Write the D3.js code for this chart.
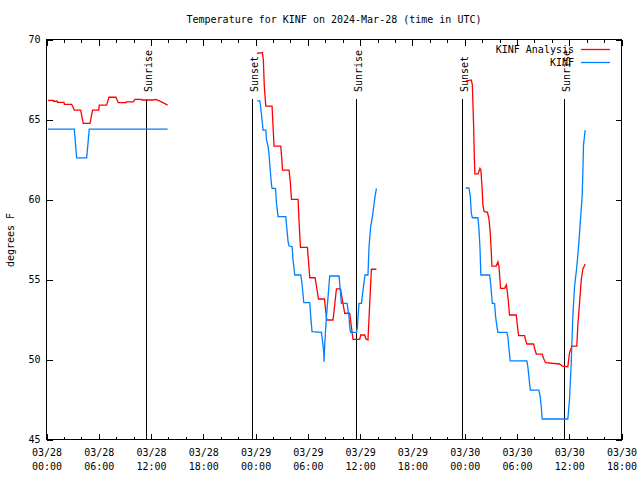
<!DOCTYPE html>
<html>
<head>
<meta charset="utf-8">
<script src="https://cdn.jsdelivr.net/npm/d3@7"></script>
<style>
  html, body { margin: 0; padding: 0; background: #fff; }
  svg { display: block; }
  text { font-family: "DejaVu Sans Mono", "Liberation Mono", monospace; font-size: 10px; fill: #000; }
</style>
</head>
<body>
<svg id="chart" width="640" height="480"></svg>
<script>
// ---- Data (hours since 2024-03-28 00:00 UTC; null = gap) ----
const titleText = "Temperature for KINF on 2024-Mar-28 (time in UTC)";
const yLabelText = "degrees F";
const seriesNames = ["KINF Analysis", "KINF"];
const seriesColors = ["#ff0000", "#0080ff"];

const analysisHours = [
  0.17, 0.78, 0.8, 1.24, 1.27, 2.01, 2.05, 2.89, 3.19, 3.92, 4.22, 4.99, 5.29, 6.0, 6.06, 6.9, 7.17, 7.97, 8.24, 9.12, 9.15, 9.96, 10.15, 10.91, 10.95, 12.25, 12.56, 13.2, 13.9,
  null,
  24.17, 24.79, 24.89, 25.0, 25.17, 25.89, 26.0, 26.12, 26.89, 27.0, 27.09, 27.84, 28.0, 28.12, 28.88, 29.0, 29.15, 29.95, 30.22, 30.83, 31.22, 31.9, 32.17, 32.89, 33.28, 33.74, 34.23, 34.8, 35.18, 35.95, 36.07, 36.53, 36.64, 36.9, 37.29, 37.87,
  null,
  48.11, 48.76, 48.88, 49.03, 49.11, 49.17, 49.54, 49.75, 49.86, 50.0, 50.09, 50.23, 50.6, 50.78, 50.94, 51.06, 51.12, 51.63, 51.81, 51.93, 52.01, 52.12, 52.58, 52.78, 52.87, 53.0, 53.15, 53.92, 54.04, 54.19, 54.87, 54.99, 55.14, 55.91, 56.02, 56.22, 56.9, 57.05, 57.28, 58.89, 59.2, 59.84, 60.03, 60.3, 60.87, 60.99, 61.18, 61.38, 61.56, 61.83
];
const analysisTemps = [
  66.2, 66.2, 66.14, 66.14, 66.07, 66.07, 65.95, 65.95, 65.59, 65.59, 64.76, 64.76, 65.59, 65.59, 65.9, 65.9, 66.39, 66.39, 66.05, 66.05, 66.1, 66.1, 66.26, 66.26, 66.22, 66.22, 66.26, 66.1, 65.9,
  null,
  69.14, 69.18, 68.7, 67.1, 65.84, 65.84, 64.6, 63.34, 63.34, 62.6, 61.84, 61.84, 61.0, 60.01, 60.01, 58.5, 57.01, 57.01, 55.11, 55.11, 53.78, 53.78, 52.47, 52.47, 54.41, 54.41, 52.89, 52.89, 51.26, 51.26, 51.53, 51.53, 51.3, 51.22, 55.64, 55.64,
  null,
  67.4, 67.47, 67.16, 64.55, 62.58, 61.6, 61.6, 61.95, 61.84, 60.72, 59.66, 59.24, 59.22, 58.83, 57.89, 56.64, 55.84, 55.84, 56.11, 55.84, 55.28, 54.45, 54.45, 54.66, 54.34, 53.72, 52.78, 52.78, 52.16, 51.49, 51.49, 51.22, 50.97, 50.97, 50.7, 50.34, 50.34, 50.08, 49.8, 49.72, 49.59, 49.55, 50.39, 50.84, 50.84, 52.16, 53.51, 54.97, 55.64, 55.97
];

const obsHours = [
  0.17, 3.19, 3.46, 4.61, 4.91, 13.9,
  null,
  24.17, 24.48, 24.56, 24.68, 24.86, 25.17, 25.25, 25.44, 25.55, 25.63, 25.71, 25.83, 25.89, 26.28, 26.4, 26.58, 27.46, 27.73, 27.84, 28.19, 28.3, 28.5, 29.19, 29.27, 29.38, 29.53, 30.22, 30.33, 30.48, 31.56, 31.82, 31.86, 31.94, 32.13, 32.32, 32.51, 33.58, 33.85, 34.5, 34.72, 34.8, 34.89, 35.57, 35.67, 35.87, 36.15, 36.33, 36.56, 36.9, 37.02, 37.21, 37.41, 37.56, 37.71, 37.87,
  null,
  48.11, 48.49, 48.65, 48.76, 48.88, 49.52, 49.63, 49.75, 49.86, 50.86, 50.98, 51.09, 51.17, 51.43, 51.55, 51.7, 51.81, 52.84, 52.96, 53.07, 53.23, 55.14, 55.25, 55.37, 55.53, 56.51, 56.67, 56.79, 56.9, 59.84, 60.03, 60.23, 60.41, 60.61, 60.87, 61.1, 61.26, 61.49, 61.56, 61.64, 61.83
];
const obsTemps = [
  64.4, 64.4, 62.6, 62.6, 64.4, 64.4,
  null,
  66.16, 66.16, 65.9, 65.28, 64.34, 64.34, 63.72, 63.3, 62.78, 62.16, 61.66, 60.9, 60.7, 60.7, 59.76, 58.93, 58.93, 57.36, 57.09, 57.05, 56.22, 55.28, 55.28, 54.97, 54.45, 53.55, 53.55, 52.68, 51.74, 51.7, 50.49, 49.86, 51.01, 52.68, 53.93, 55.22, 55.22, 53.51, 53.51, 52.68, 52.05, 51.7, 51.7, 51.95, 53.51, 53.51, 54.34, 55.28, 55.28, 57.05, 58.3, 58.93, 59.55, 60.18, 60.7,
  null,
  60.72, 60.72, 60.18, 59.14, 58.86, 58.86, 58.2, 57.05, 55.28, 55.28, 54.76, 54.03, 53.51, 53.51, 52.68, 52.05, 51.7, 51.7, 51.43, 50.7, 49.91, 49.91, 49.55, 48.93, 48.09, 48.09, 47.68, 47.05, 46.28, 46.28, 47.47, 49.76, 52.68, 54.55, 55.8, 57.26, 58.51, 60.28, 61.64, 63.41, 64.34
];

const eventNames = ["Sunrise", "Sunset", "Sunrise", "Sunset", "Sunrise"];
const eventHours = [11.46, 23.64, 35.49, 47.71, 59.43];

const yTicks = [45, 50, 55, 60, 65, 70];
const xMajorStepHours = 6;
const xMinorStepHours = 2;

// ---- Layout ----
const L = 46.5, R = 621.5, T = 39.5, B = 439.5;
const start = new Date(Date.UTC(2024, 2, 28, 0, 0));
const end = new Date(Date.UTC(2024, 2, 30, 18, 0));
const toDate = h => new Date(start.getTime() + h * 3600e3);

const x = d3.scaleUtc().domain([start, end]).range([L, R]);
const y = d3.scaleLinear().domain([45, 70]).range([B, T]);

const svg = d3.select("#chart");
svg.append("rect").attr("width", 640).attr("height", 480).attr("fill", "#fff");

const majorTicks = d3.utcHour.every(xMajorStepHours).range(start, new Date(end.getTime() + 1));
const minorTicks = d3.utcHour.every(xMinorStepHours).range(start, end)
  .filter(d => d.getUTCHours() % xMajorStepHours !== 0);

const fmtDate = d3.utcFormat("%m/%d");
const fmtTime = d3.utcFormat("%H:%M");

// Bottom axis (major)
const gxB = svg.append("g").attr("transform", `translate(0,${B})`)
  .call(d3.axisBottom(x).tickValues(majorTicks).tickSize(-6).tickSizeOuter(0).tickPadding(9).tickFormat(""));
gxB.select(".domain").remove();
gxB.selectAll(".tick").each(function(d) {
  const t = d3.select(this).select("text");
  t.text(null);
  t.append("tspan").attr("x", 0).attr("dy", "0.71em").text(fmtDate(d));
  t.append("tspan").attr("x", 0).attr("dy", "1.45em").text(fmtTime(d));
});
// Bottom minor
const gxBm = svg.append("g").attr("transform", `translate(0,${B})`)
  .call(d3.axisBottom(x).tickValues(minorTicks).tickSize(-3).tickSizeOuter(0).tickFormat(""));
gxBm.select(".domain").remove();
// Top axis
const gxT = svg.append("g").attr("transform", `translate(0,${T})`)
  .call(d3.axisTop(x).tickValues(majorTicks).tickSize(-6).tickSizeOuter(0).tickFormat(""));
gxT.select(".domain").remove();
const gxTm = svg.append("g").attr("transform", `translate(0,${T})`)
  .call(d3.axisTop(x).tickValues(minorTicks).tickSize(-3).tickSizeOuter(0).tickFormat(""));
gxTm.select(".domain").remove();
// Left axis
const gyL = svg.append("g").attr("transform", `translate(${L},0)`)
  .call(d3.axisLeft(y).tickValues(yTicks).tickSize(-6).tickSizeOuter(0).tickPadding(6).tickFormat(d3.format("d")));
gyL.select(".domain").remove();
// Right axis
const gyR = svg.append("g").attr("transform", `translate(${R},0)`)
  .call(d3.axisRight(y).tickValues(yTicks).tickSize(-6).tickSizeOuter(0).tickFormat(""));
gyR.select(".domain").remove();

svg.selectAll(".tick line").attr("stroke", "#000").attr("shape-rendering", "crispEdges");
svg.selectAll(".tick text").attr("font-family", "DejaVu Sans Mono").attr("font-size", 10).attr("fill", "#000");

// Border
svg.append("rect").attr("x", L).attr("y", T).attr("width", R - L).attr("height", B - T)
  .attr("fill", "none").attr("stroke", "#000").attr("shape-rendering", "crispEdges");

// Title & y label
svg.append("text").attr("x", (L + R) / 2).attr("y", 23).attr("text-anchor", "middle").text(titleText);
svg.append("text").attr("transform", "translate(14,240) rotate(-90)").attr("text-anchor", "middle").text(yLabelText);

// Sunrise / sunset
eventHours.forEach((h, i) => {
  const ex = Math.round(x(toDate(h))) + 0.5;
  svg.append("line").attr("x1", ex).attr("x2", ex).attr("y1", 98.5).attr("y2", B)
    .attr("stroke", "#000").attr("shape-rendering", "crispEdges");
  svg.append("text").attr("transform", `translate(${ex + 5},92) rotate(-90)`)
    .attr("text-anchor", "start").text(eventNames[i]);
});

// Data lines
const line = d3.line()
  .defined(d => d.v !== null)
  .x(d => x(toDate(d.h)))
  .y(d => y(d.v));

const analysis = analysisHours.map((h, i) => ({ h: h, v: h === null ? null : analysisTemps[i] }));
const obs = obsHours.map((h, i) => ({ h: h, v: h === null ? null : obsTemps[i] }));

svg.append("path").datum(analysis).attr("d", line)
  .attr("fill", "none").attr("stroke", seriesColors[0]).attr("stroke-width", 1.3).attr("stroke-linejoin", "miter");
svg.append("path").datum(obs).attr("d", line)
  .attr("fill", "none").attr("stroke", seriesColors[1]).attr("stroke-width", 1.3).attr("stroke-linejoin", "miter");

// Legend
const legY = [49.5, 62.5];
seriesNames.forEach((n, i) => {
  svg.append("text").attr("x", 574).attr("y", legY[i] + 3.5).attr("text-anchor", "end").text(n);
  svg.append("line").attr("x1", 581).attr("x2", 610).attr("y1", legY[i]).attr("y2", legY[i])
    .attr("stroke", seriesColors[i]).attr("stroke-width", 1.3);
});
</script>
</body>
</html>
